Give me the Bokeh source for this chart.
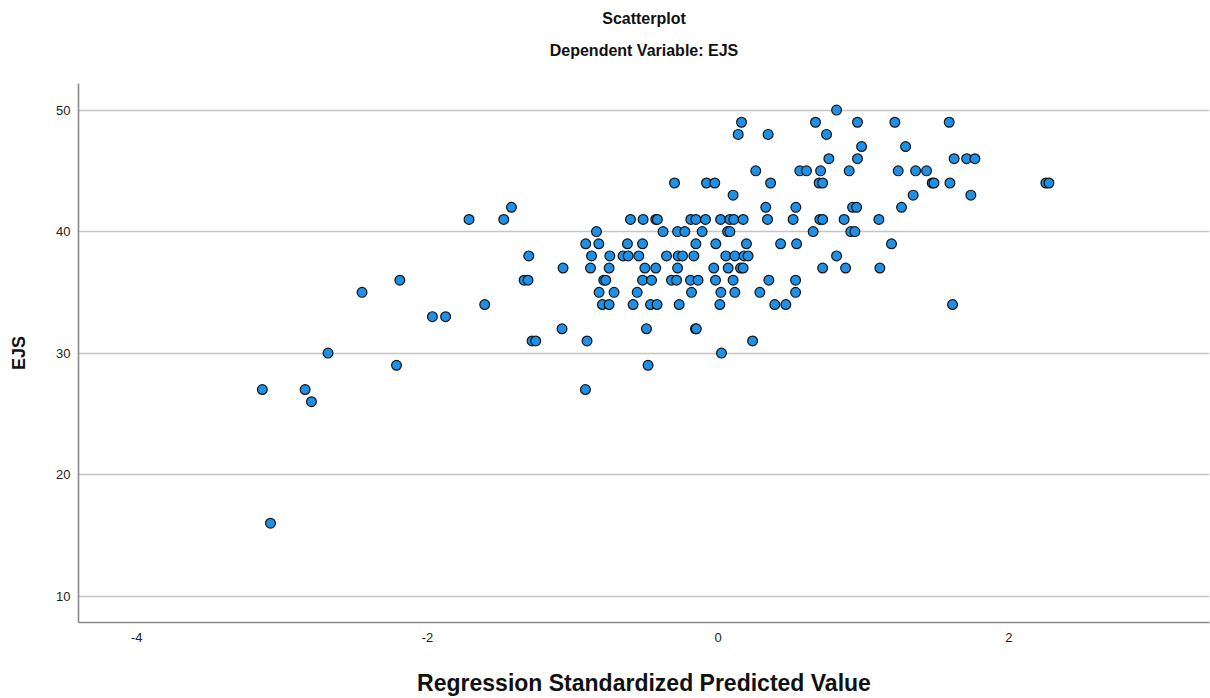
from bokeh.plotting import figure
from bokeh.models import FixedTicker, Range1d, Title, ColumnDataSource
from bokeh.embed import file_html
from bokeh.resources import INLINE

title_text = "Scatterplot"
subtitle_text = "Dependent Variable: EJS"
x_label = "Regression Standardized Predicted Value"
y_label = "EJS"
x_ticks = [-4, -2, 0, 2]
x_tick_labels = ["-4", "-2", "0", "2"]
y_ticks = [10, 20, 30, 40, 50]

# Regression standardized predicted value (x) and EJS (y)
pred = [
    0.815,
    0.161, 0.670, 0.959, 1.216, 1.590,
    0.138, 0.344, 0.746,
    0.987, 1.290,
    0.762, 0.959, 1.624, 1.710, 1.767,
    0.259, 0.562, 0.608, 0.705, 0.902, 1.239, 1.359, 1.434,
    -0.300, -0.080, -0.023, 0.361, 0.695, 0.719, 1.473, 1.485, 1.595, 2.255, 2.276,
    0.103, 1.342, 1.739,
    -1.422, 0.328, 0.535, 0.925, 0.953, 1.262,
    -1.714, -1.475, -0.603, -0.516, -0.429, -0.418, -0.188, -0.153, -0.087, 0.017,
    0.081, 0.108, 0.172, 0.340, 0.516, 0.700, 0.719, 0.867, 1.106,
    -0.837, -0.379, -0.279, -0.229, -0.110, 0.065, 0.081, 0.654, 0.913, 0.941,
    -0.911, -0.821, -0.624, -0.520, -0.153, -0.016, 0.195, 0.430, 0.540, 1.193,
    -1.303, -0.871, -0.745, -0.654, -0.619, -0.546, -0.355, -0.275, -0.245, -0.167,
    0.053, 0.115, 0.179, 0.206, 0.815,
    -1.067, -0.878, -0.750, -0.504, -0.429, -0.279, -0.030, 0.069, 0.154, 0.172,
    0.719, 0.877, 1.113,
    -2.190, -1.335, -1.308, -0.787, -0.773, -0.520, -0.458, -0.321, -0.286, -0.190,
    -0.138, -0.018, 0.103, 0.349, 0.533,
    -2.450, -0.819, -0.716, -0.557, -0.183, 0.019, 0.115, 0.287, 0.533,
    -1.606, -0.796, -0.750, -0.585, -0.465, -0.420, -0.268, 0.012, 0.390, 0.466, 1.613,
    -1.966, -1.875,
    -1.074, -0.493, -0.156, -0.150,
    -1.280, -1.255, -0.902, 0.237,
    -2.684, 0.023,
    -2.213, -0.482,
    -3.136, -2.842, -0.913,
    -2.798,
    -3.080,
]
ejs = (
    [50]
    + [49] * 5
    + [48] * 3
    + [47] * 2
    + [46] * 5
    + [45] * 8
    + [44] * 11
    + [43] * 3
    + [42] * 6
    + [41] * 19
    + [40] * 10
    + [39] * 10
    + [38] * 15
    + [37] * 13
    + [36] * 15
    + [35] * 9
    + [34] * 11
    + [33] * 2
    + [32] * 4
    + [31] * 4
    + [30] * 2
    + [29] * 2
    + [27] * 3
    + [26] * 1
    + [16] * 1
)
assert len(pred) == len(ejs), (len(pred), len(ejs))

FONT = "Liberation Sans"

source = ColumnDataSource(data=dict(x=pred, y=ejs))

p = figure(
    width=1210, height=698,
    output_backend="svg", toolbar_location=None, title=None,
    x_range=Range1d(-4.401, 3.381), y_range=Range1d(7.83, 52.19),
    min_border_left=78, min_border_right=1, min_border_top=83, min_border_bottom=75,
    background_fill_color="white", border_fill_color="white",
)
p.outline_line_color = None

# spacer between plot frame and the subtitle
p.add_layout(Title(text=" ", align="center", text_font=FONT,
                   text_font_size="2px", standoff=15), "above")
p.add_layout(Title(text=subtitle_text, align="center", text_font=FONT,
                   text_font_size="16px", text_font_style="bold",
                   text_color="#111111", standoff=12), "above")
p.add_layout(Title(text=title_text, align="center", text_font=FONT,
                   text_font_size="16px", text_font_style="bold",
                   text_color="#111111", standoff=14), "above")

p.xgrid.grid_line_color = None
p.ygrid.ticker = FixedTicker(ticks=y_ticks)
p.ygrid.grid_line_color = "#c4c4c4"
p.ygrid.grid_line_width = 1.3

for ax in (p.xaxis[0], p.yaxis[0]):
    ax.major_tick_line_color = None
    ax.minor_tick_line_color = None
    ax.major_tick_out = 0
    ax.major_tick_in = 0
    ax.minor_tick_out = 0
    ax.minor_tick_in = 0
    ax.axis_line_color = "#8a8a8a"
    ax.axis_line_width = 1.6
    ax.major_label_text_font = FONT
    ax.major_label_text_font_size = "13px"
    ax.major_label_text_color = "#222222"
    ax.axis_label_text_font = FONT
    ax.axis_label_text_font_style = "bold"
    ax.axis_label_text_color = "#111111"

p.xaxis[0].ticker = FixedTicker(ticks=x_ticks)
p.xaxis[0].major_label_overrides = {t: s for t, s in zip(x_ticks, x_tick_labels)}
p.xaxis[0].axis_label = x_label
p.xaxis[0].axis_label_text_font_size = "23px"
p.xaxis[0].major_label_standoff = 10
p.xaxis[0].axis_label_standoff = 25

p.yaxis[0].ticker = FixedTicker(ticks=y_ticks)
p.yaxis[0].axis_label = y_label
p.yaxis[0].axis_label_text_font_size = "18px"
p.yaxis[0].major_label_standoff = 8
p.yaxis[0].axis_label_standoff = 24

p.scatter("x", "y", source=source, marker="circle", size=9.8,
          fill_color="#1e90e6", line_color="#151515", line_width=1.2)

open("out.html", "w").write(file_html(p, INLINE))
